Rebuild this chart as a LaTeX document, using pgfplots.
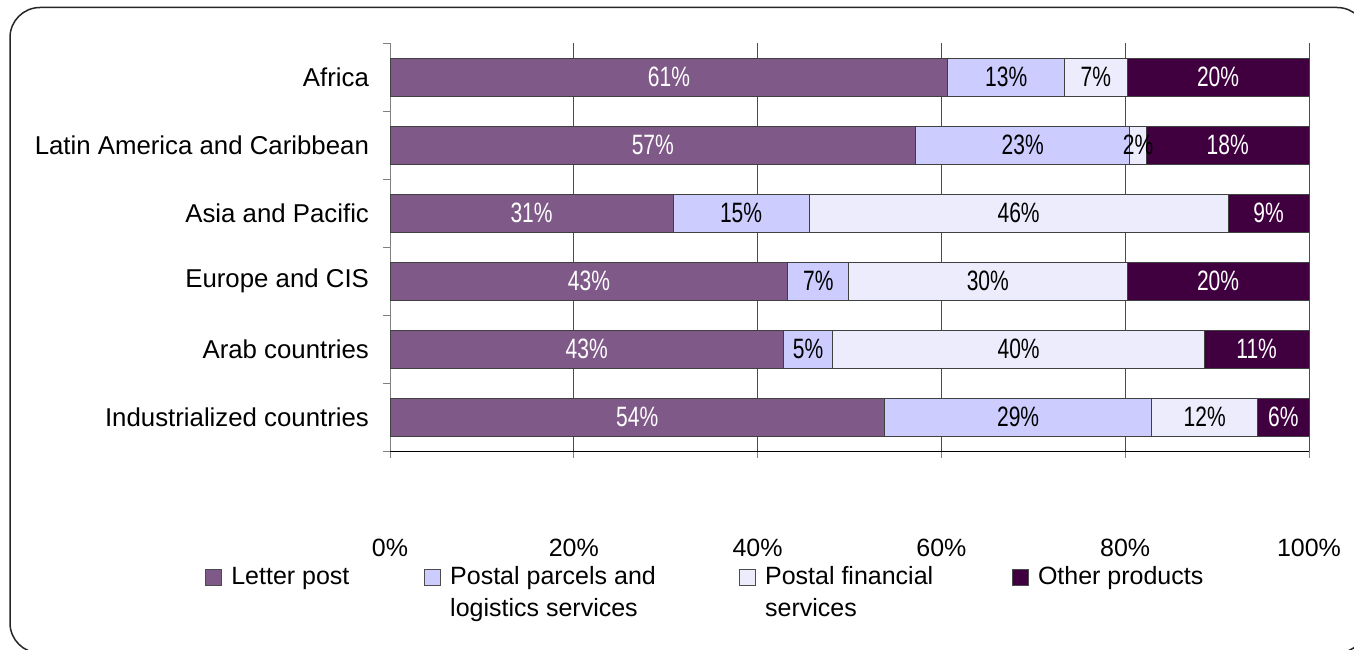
\documentclass[border=0pt]{standalone}
\usepackage{pgfplots}
\pgfplotsset{compat=1.18}
\usepackage{pgfplotstable}
\usepackage{fontspec}
\setmainfont{Liberation Sans}
\newfontfamily\barfont[FakeStretch=0.75]{Liberation Sans}
\definecolor{cLetter}{RGB}{127,90,136}
\definecolor{cParcel}{RGB}{204,204,255}
\definecolor{cFin}{RGB}{236,236,252}
\definecolor{cOther}{RGB}{64,0,64}
\newcommand\lfont{\fontsize{12.5}{15}\selectfont}
\newcommand\yfont{\fontsize{12.9}{15}\selectfont}
\newcommand\legtext[2]{\smash{\parbox[t]{#1}{\fontsize{12.5}{16}\selectfont #2}}\vphantom{Ag}}

\pgfplotstableread{
y letter parcel fin other
0 53.8 29.1 11.5 5.6
1 42.8 5.4 40.4 11.4
2 43.3 6.6 30.3 19.8
3 30.8 14.8 45.6 8.8
4 57.2 23.3 1.8 17.7
5 60.7 12.7 6.8 19.8
}\datatable

\begin{document}
\begin{tikzpicture}
\useasboundingbox (0,0) rectangle (677pt,324.5pt);
\begin{scope}
\clip (0,0) rectangle (677pt,324.5pt);
\draw[line width=0.75pt, black!85, rounded corners=15pt] (5pt,-2pt) rectangle (683.5pt,320.75pt);
\end{scope}
\begin{axis}[
  /pgf/number format/assume math mode=true,
  at={(195pt,99pt)}, anchor=south west,
  scale only axis, width=459.5pt, height=204pt,
  xbar stacked, bar width=19pt,
  xmin=0, xmax=100, ymin=-0.5, ymax=5.5,
  axis x line*=bottom, axis y line*=left,
  x axis line style={black, -},
  y axis line style={gray, -},
  xtick={0,20,...,100},
  xticklabel={\pgfmathprintnumber{\tick}\%},
  xticklabel style={font=\lfont, yshift=-37pt},
  tick align=outside,
  major tick length=3.5pt,
  tick style={gray, line width=0.5pt},
  ytick={-0.5,0.5,...,5.5},
  yticklabels={{},{},{},{},{},{},{}},
  extra y ticks={0,1,2,3,4,5},
  extra y tick labels={Industrialized countries, Arab countries, Europe and CIS, Asia and Pacific, Latin America and Caribbean, Africa},
  extra y tick style={major tick length=0pt, yticklabel style={font=\yfont, xshift=-7pt}},
  xmajorgrids,
  major grid style={gray!60!black, line width=0.5pt},
  point meta=explicit,
  nodes near coords={\pgfmathprintnumber[fixed,precision=0]{\pgfplotspointmeta}\%},
  every node near coord/.append style={anchor=center, font=\barfont\fontsize{14}{14}\selectfont},
  legend columns=4,
  legend cell align=left,
  legend style={at={(axis description cs:-0.2013,-0.309)}, anchor=west, draw=none, fill=none, inner sep=0pt, column sep=0pt, row sep=0pt, nodes={inner sep=0pt, font=\lfont}},
  legend image code/.code={\draw[#1,draw=gray!60!black,line width=0.4pt] (0pt,-4pt) rectangle (8pt,4pt); \path (12.5pt,0pt);},
]
\addplot[fill=cLetter, draw=black!75, line width=0.5pt, every node near coord/.append style={text=white}] table[x=letter, y=y, meta=letter] {\datatable};
\addlegendentry{\legtext{96.5pt}{Letter post}}
\addplot[fill=cParcel, draw=black!75, line width=0.5pt, every node near coord/.append style={text=black}] table[x=parcel, y=y, meta=parcel] {\datatable};
\addlegendentry{\legtext{144.5pt}{Postal parcels and\\logistics services}}
\addplot[fill=cFin, draw=black!75, line width=0.5pt, every node near coord/.append style={text=black}] table[x=fin, y=y, meta=fin] {\datatable};
\addlegendentry{\legtext{123.5pt}{Postal financial\\services}}
\addplot[fill=cOther, draw=black!75, line width=0.5pt, every node near coord/.append style={text=white}] table[x=other, y=y, meta=other] {\datatable};
\addlegendentry{\legtext{87pt}{Other products}}
\end{axis}
\end{tikzpicture}
\end{document}
